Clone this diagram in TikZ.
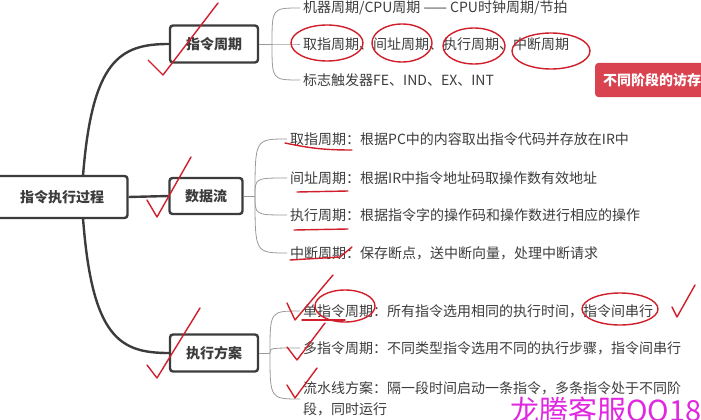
\documentclass[tikz,border=0pt]{standalone}
\usepackage{fontspec}
\setmainfont{Noto Sans CJK SC}
\usetikzlibrary{calc}
\definecolor{ink}{HTML}{3C3C3C}
\definecolor{twiggray}{HTML}{9A9A9A}
\definecolor{penred}{HTML}{D01E2A}
\definecolor{tagred}{HTML}{D9434F}
\definecolor{wmark}{HTML}{E028E0}

\begin{document}
\begin{tikzpicture}[x=1pt,y=-1pt,topic/.style={draw=ink, line width=2.4pt, rounded corners=3pt, fill=white, text=ink, font=\fontsize{14}{17}\selectfont\bfseries, inner sep=0pt},leaf/.style={anchor=west, text=ink, font=\fontsize{14}{21}\selectfont, inner xsep=3pt, inner ysep=1pt, align=left},trunk/.style={draw=ink, line width=2.4pt},twig/.style={draw=twiggray, line width=0.8pt},pen/.style={draw=penred, line width=1.4pt, line cap=round, line join=round},tag/.style={fill=tagred, rounded corners=3pt, text=white, font=\fontsize{14}{17}\selectfont\bfseries, anchor=west, minimum height=34pt, inner xsep=8pt}]
\useasboundingbox (0,0) rectangle (701,420); \clip (0,0) rectangle (701,420);
% main topics
\node[topic, minimum width=131pt, minimum height=42pt] (root) at (62,197) {指令执行过程};
\node[topic, minimum width=88pt, minimum height=37pt] (cycle) at (214,44) {指令周期};
\node[topic, minimum width=73pt, minimum height=36pt] (flow) at (206,196) {数据流};
\node[topic, minimum width=88pt, minimum height=37pt] (scheme) at (214,353) {执行方案};
\draw[trunk] (83,176) .. controls (92,60) and (120,44) .. (cycle.west);
\draw[trunk] (83,218) .. controls (92,338) and (120,353) .. (scheme.west);
\draw[trunk] (root.east) -- (flow.west);
% instruction cycle
\node[leaf] (mc) at (300,8) {机器周期/CPU周期 —— CPU时钟周期/节拍};
\node[leaf] (ph) at (300,44) {取指周期、间址周期、执行周期、中断周期};
\node[leaf] (ff) at (300,80) {标志触发器FE、IND、EX、INT};
\node[tag] (acc) at (595,80) {不同阶段的访存};
\coordinate (j1) at (272,44);
\draw[twig] (cycle.east) -- (j1);
\foreach \c in {mc,ph,ff} \draw[twig] (j1) .. controls (j1 |- \c.west) .. (\c.west);
% data flow
\node[leaf] (fe) at (287,139) {取指周期：根据PC中的内容取出指令代码并存放在IR中};
\node[leaf] (ind) at (287,178) {间址周期：根据IR中指令地址码取操作数有效地址};
\node[leaf] (ex) at (287,215) {执行周期：根据指令字的操作码和操作数进行相应的操作};
\node[leaf] (int) at (287,253) {中断周期：保存断点，送中断向量，处理中断请求};
\coordinate (j2) at (255,196);
\draw[twig] (flow.east) -- (j2);
\foreach \c in {fe,ind,ex,int} \draw[twig] (j2) .. controls (j2 |- \c.west) .. (\c.west);
% schemes
\node[leaf] (single) at (300,311) {单指令周期：所有指令选用相同的执行时间，指令间串行};
\node[leaf] (multi) at (300,348) {多指令周期：不同类型指令选用不同的执行步骤，指令间串行};
\node[leaf] (pipe) at (300,399) {流水线方案：隔一段时间启动一条指令，多条指令处于不同阶\\段，同时运行};
\coordinate (j3) at (270,353);
\draw[twig] (scheme.east) -- (j3);
\foreach \c in {single,multi,pipe} \draw[twig] (j3) .. controls (j3 |- \c.west) .. (\c.west);
% red pen marks
\draw[pen] (148,60) -- (163,75) -- (218,3);
\draw[pen] (147,200) -- (157,217) -- (191,157);
\draw[pen] (147,365) -- (157,378) -- (200,308);
\draw[pen] (287,303) -- (295,320) -- (333,275);
\draw[pen] (287,347) -- (297,360) -- (325,323);
\draw[pen] (287,385) -- (295,398) -- (317,368);
\draw[pen] (672,307) -- (677,317) -- (695,285);
\draw[pen] (327,43) ellipse [x radius=36, y radius=18];
\draw[pen] (402,43) ellipse [x radius=30, y radius=19];
\draw[pen] (474,46) ellipse [x radius=31, y radius=18];
\draw[pen] (551,51) ellipse [x radius=39, y radius=18];
\draw[pen] (345,306) ellipse [x radius=30, y radius=16];
\draw[pen] (620,309) ellipse [x radius=38, y radius=16];
\draw[pen] (285,143) to[bend right=6] (352,150);
\draw[pen] (297,192) -- (348,191); \draw[pen] (294,230) -- (348,229);
\draw[pen] (290,260) -- (340,257) -- (352,247);
\draw[pen] (302,320) -- (345,320);
% watermark
\node[anchor=north west, inner sep=0pt, text=wmark, font=\fontsize{29}{29}\selectfont] (wm) at (510,397) {龙腾客服QQ187};
\end{tikzpicture}
\end{document}
